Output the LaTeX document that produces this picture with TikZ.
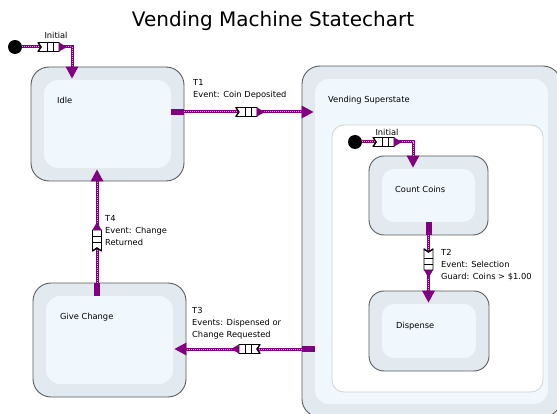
\documentclass[tikz,border=0pt]{standalone}
\usepackage{fontspec}
\setmainfont{DejaVu Sans}
\usetikzlibrary{calc,arrows.meta}
\definecolor{purp}{HTML}{800080}
\definecolor{dotc}{HTML}{E09AE0}
\definecolor{outerfill}{HTML}{E2EAF0}
\definecolor{innerfill}{HTML}{F0F7FD}
\definecolor{bordc}{HTML}{5C5C5C}
\definecolor{regionb}{HTML}{D4D4D4}
\tikzset{
  stout/.style={draw=bordc, line width=0.9pt, fill=outerfill, rounded corners=18pt, inner sep=0pt},
  stin/.style={fill=innerfill, rounded corners=14pt, inner sep=0pt},
  regionbox/.style={draw=regionb, line width=0.8pt, fill=white, rounded corners=12pt, inner sep=0pt},
  lbl/.style={font=\fontsize{8.3}{11.7}\selectfont, inner sep=0pt, text=black},
  blk/.style={lbl, align=left, anchor=north west},
  conn/.style={draw=purp, line width=3pt, -{Triangle[length=12pt,width=13pt,line width=0pt]},
    postaction={draw=dotc, line width=1pt, dash pattern=on 1pt off 1pt, shorten >=12pt, -}},
  stub/.style={draw=purp, line width=6pt},
  initdot/.style={circle, fill=black, minimum size=14pt, inner sep=0pt},
  queue/.pic={
    \filldraw[fill=white, draw=black, line width=0.8pt] (-15,-4.5) -- (6,-4.5) -- (6,4.5) -- (-15,4.5) -- (-12,0) -- cycle;
    \draw[black, line width=0.8pt] (-6,-4.5) -- (-6,4.5) (0,-4.5) -- (0,4.5);
    \draw[black, line width=1.3pt] (-15,-4.5) -- (-12,0) -- (-15,4.5);
    \fill[purp] (6,-4.5) -- (14,0) -- (6,4.5) -- cycle;
  }
}
\begin{document}
\begin{tikzpicture}[x=1pt,y=-1pt]
\clip (0,0) rectangle (557,414);
\fill[white] (0,0) rectangle (557,414);

\node[font=\fontsize{20}{24}\selectfont, anchor=base] (title) at (273,27) {Vending Machine Statechart};

% superstate
\node[stout, minimum width=259pt, minimum height=351pt] (super) at (431.5,241.5) {};
\node[stin, minimum width=233pt, minimum height=325pt] (superin) at (super.center) {};
\node[regionbox, minimum width=211pt, minimum height=267pt] (region) at (437.5,258.5) {};

% simple states
\node[stout, minimum width=153pt, minimum height=114pt] (idle) at (107.5,124) {};
\node[stin, minimum width=127pt, minimum height=88pt] (idlein) at (idle.center) {};
\node[stout, minimum width=153pt, minimum height=114pt] (give) at (109.5,340) {};
\node[stin, minimum width=127pt, minimum height=88pt] (givein) at (give.center) {};
\node[stout, rounded corners=15pt, minimum width=119pt, minimum height=79pt] (count) at (428.5,195.5) {};
\node[stin, rounded corners=12pt, minimum width=93pt, minimum height=53pt] (countin) at (count.center) {};
\node[stout, rounded corners=15pt, minimum width=120pt, minimum height=80pt] (dispense) at (429,331) {};
\node[stin, rounded corners=12pt, minimum width=94pt, minimum height=54pt] (dispensein) at (dispense.center) {};

% state labels
\node[lbl, anchor=base west] (idlelbl) at (57,103.5) {Idle};
\node[lbl, anchor=base west] (superlbl) at (328,102.5) {Vending Superstate};
\node[lbl, anchor=base west] (countlbl) at (395,192.5) {Count Coins};
\node[lbl, anchor=base west] (displbl) at (396,328.5) {Dispense};
\node[lbl, anchor=base west] (givelbl) at (60,319.5) {Give Change};

% transition labels
\node[lbl, anchor=base] (i1lbl) at (56,38.5) {Initial};
\node[lbl, anchor=base] (i2lbl) at (387,135.5) {Initial};
\node[blk] (t1lbl) at (193,79.5) {T1\\Event: Coin Deposited};
\node[blk] (t2lbl) at (441,249.5) {T2\\Event: Selection\\Guard: Coins > \$1.00};
\node[blk] (t3lbl) at (192,307.5) {T3\\Events: Dispensed or\\Change Requested};
\node[blk] (t4lbl) at (105,215.5) {T4\\Event: Change\\Returned};

% initial dots
\node[initdot] (init1) at (15,47) {};
\node[initdot] (init2) at (355,142) {};

% coordinates
\coordinate (i1d) at ($(idle.north)+(-35.5,12)$);
\coordinate (i2d) at ($(count.north)+(-15.5,12)$);

\coordinate (t1a) at ($(idle.east)+(-13,-12)$);
\coordinate (t1b) at ($(idle.east)+(0,-12)$);
\coordinate (t1c) at (super.west |- t1b);
\coordinate (t1d) at ($(t1c)+(12,0)$);

\coordinate (t3a) at ($(super.west)+(13,107.5)$);
\coordinate (t3b) at ($(super.west)+(0,107.5)$);
\coordinate (t3c) at (give.east |- t3b);
\coordinate (t3d) at ($(t3c)+(-12,0)$);

\coordinate (t4a) at ($(give.north)+(-12.5,13)$);
\coordinate (t4b) at ($(give.north)+(-12.5,0)$);
\coordinate (t4c) at (idle.south -| t4b);
\coordinate (t4d) at ($(t4c)+(0,-12)$);

\coordinate (t2a) at ($(count.south)+(0,-13)$);
\coordinate (t2b) at (count.south);
\coordinate (t2c) at (dispense.north -| t2b);
\coordinate (t2d) at ($(t2c)+(0,12)$);

% stubs
\draw[stub] (t1a) -- (t1b);
\draw[stub] (t3a) -- (t3b);
\draw[stub] (t4a) -- (t4b);
\draw[stub] (t2a) -- (t2b);

% connectors
\draw[conn] (init1) -| (i1d);
\draw[conn] (init2) -| (i2d);
\draw[conn] (t1b) -- (t1d);
\draw[conn] (t3b) -- (t3d);
\draw[conn] (t4b) -- (t4d);
\draw[conn] (t2b) -- (t2d);

% event queues
\path (init1) -| pic[pos=0.31, sloped]{queue} (i1d);
\path (init2) -| pic[pos=0.255, sloped]{queue} (i2d);
\path (t1b) -- pic[pos=0.515, sloped, allow upside down]{queue} (t1d);
\path (t3b) -- pic[pos=0.445, sloped, allow upside down]{queue} (t3d);
\path (t4b) -- pic[pos=0.412, sloped, allow upside down]{queue} (t4d);
\path (t2b) -- pic[pos=0.426, sloped, allow upside down]{queue} (t2d);
\end{tikzpicture}
\end{document}
